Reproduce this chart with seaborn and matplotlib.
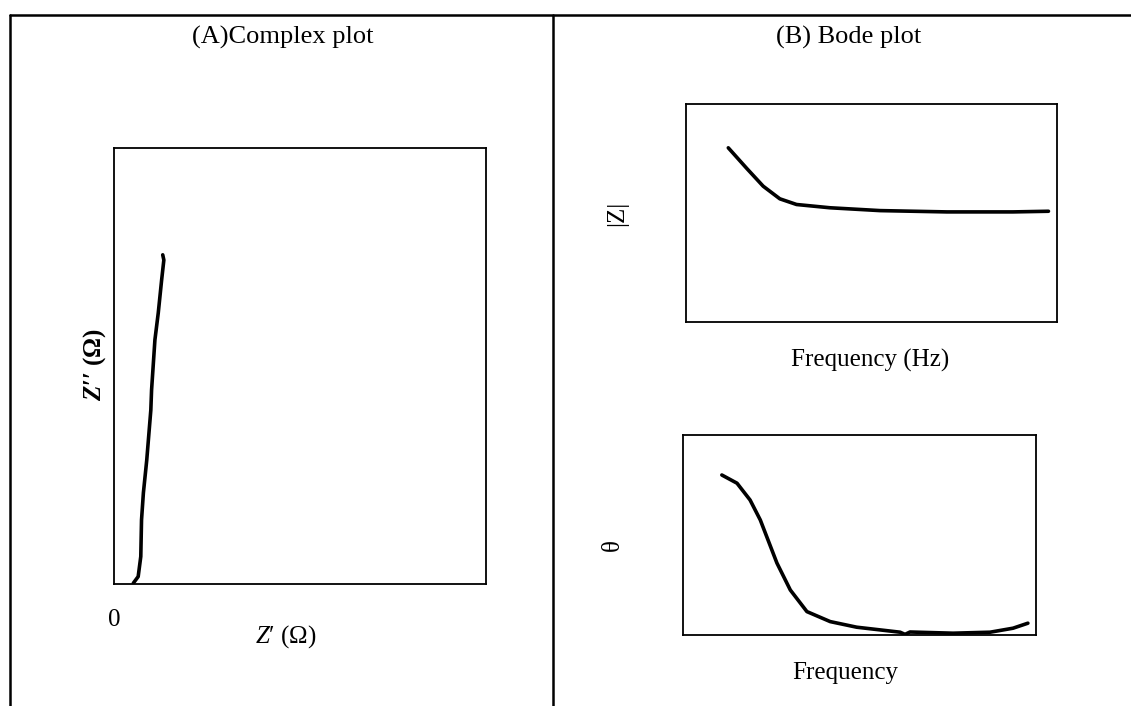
import numpy as np
import pandas as pd
import seaborn as sns
import matplotlib.pyplot as plt
from matplotlib.lines import Line2D

# Complex (Nyquist) plot, arbitrary units
z_real = [0.52, 0.65, 0.72, 0.74, 0.79, 0.88, 0.99, 1.01, 1.10, 1.19, 1.28, 1.34, 1.31]
z_imag = [0.02, 0.17, 0.63, 1.47, 2.09, 2.84, 3.99, 4.45, 5.60, 6.22, 6.97, 7.43, 7.55]

# Bode |Z| vs frequency
freq_mag = [1.14, 1.64, 2.08, 2.53, 2.98, 3.88, 5.23, 7.03, 8.81, 9.77]
z_mag = [7.99, 7.04, 6.23, 5.65, 5.39, 5.24, 5.11, 5.05, 5.05, 5.08]

# Bode phase vs frequency
freq_phase = [1.10, 1.53, 1.90, 2.19, 2.66, 3.04, 3.51, 4.17, 4.92, 6.15, 6.29, 6.43, 7.65, 8.70, 9.35, 9.77]
phase = [8.0, 7.59, 6.75, 5.75, 3.6, 2.25, 1.17, 0.67, 0.39, 0.14, 0.03, 0.15, 0.09, 0.14, 0.34, 0.59]

sns.set_theme(style="white")
plt.rcParams['font.family'] = ['Liberation Serif', 'DejaVu Serif']
plt.rcParams['text.color'] = 'black'
plt.rcParams['mathtext.fontset'] = 'custom'
plt.rcParams['mathtext.rm'] = 'Liberation Serif'
plt.rcParams['mathtext.it'] = 'Liberation Serif:italic'
plt.rcParams['mathtext.bf'] = 'Liberation Serif:bold:italic'

W, H = 1131, 706
FS = 18
fig = plt.figure(figsize=(W / 100, H / 100), dpi=100)
fig.patch.set_facecolor("white")


def px_axes(left, top, right, bottom):
    return fig.add_axes([left / W, 1 - bottom / H, (right - left) / W, (bottom - top) / H])


def px_text(x, y, s, **kw):
    fig.text(x / W, 1 - y / H, s, ha="center", va="center", **kw)


def style_box(ax):
    ax.set_xlim(0, 10)
    ax.set_ylim(0, 10)
    ax.set_xticks([])
    ax.set_yticks([])
    ax.set_xlabel("")
    ax.set_ylabel("")
    for s in ax.spines.values():
        s.set_visible(True)
        s.set_color("black")
        s.set_linewidth(1.3)


line_kw = dict(estimator=None, color="black", lw=2.6,
               solid_capstyle="round", solid_joinstyle="round")

# table lines
fig.add_artist(Line2D([10 / W, 1], [1 - 15 / H, 1 - 15 / H], color="black", lw=1.8))
fig.add_artist(Line2D([10 / W, 10 / W], [0, 1 - 15 / H], color="black", lw=1.8))
fig.add_artist(Line2D([553 / W, 553 / W], [0, 1 - 15 / H], color="black", lw=1.8))

px_text(283, 37, "(A)Complex plot", fontsize=FS + 1)
px_text(849, 37, "(B) Bode plot", fontsize=FS + 1)

# (A) complex plot
axA = px_axes(114, 148, 486, 584)
df_a = pd.DataFrame({"zr": z_real, "zi": z_imag})
sns.lineplot(data=df_a, x="zr", y="zi", ax=axA, sort=False, **line_kw)
style_box(axA)
px_text(114, 620, "0", fontsize=FS)
px_text(286, 637, "$\\mathit{Z}$\u2032 (\u03a9)", fontsize=FS)
px_text(95, 364, "$\\mathbf{Z}$\u2032\u2032 (\u03a9)", fontsize=FS, fontweight="bold", rotation=90)

# (B) bode |Z|
axB1 = px_axes(686, 104, 1057, 322)
df_b1 = pd.DataFrame({"f": freq_mag, "z": z_mag})
sns.lineplot(data=df_b1, x="f", y="z", ax=axB1, **line_kw)
style_box(axB1)
px_text(617, 213, "|Z|", fontsize=FS, rotation=90)
px_text(870, 360, "Frequency (Hz)", fontsize=FS)

# (B) bode phase
axB2 = px_axes(683, 435, 1036, 635)
df_b2 = pd.DataFrame({"f": freq_phase, "p": phase})
sns.lineplot(data=df_b2, x="f", y="p", ax=axB2, **line_kw)
style_box(axB2)
px_text(613, 545, "\u03b8", fontsize=FS, rotation=90)
px_text(845, 673, "Frequency", fontsize=FS)

fig.savefig("out.png", dpi=100, facecolor="white")
